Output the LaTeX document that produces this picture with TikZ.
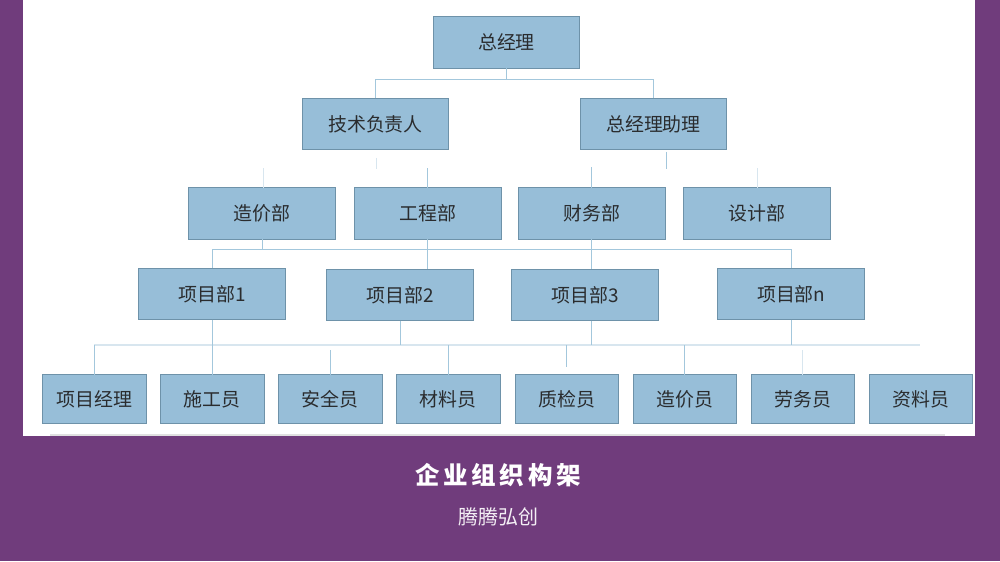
\documentclass[tikz,border=0pt]{standalone}
\usepackage{fontspec}
\setmainfont{Noto Sans CJK SC}
\usetikzlibrary{positioning}

\definecolor{boxfill}{HTML}{97BED8}
\definecolor{boxline}{HTML}{6E92A9}
\definecolor{linkline}{HTML}{A3C7DC}
\definecolor{paleline}{HTML}{D8E6EF}
\definecolor{bandcolor}{HTML}{703C7C}
\definecolor{inkcolor}{HTML}{2A2C2E}

\begin{document}
\begin{tikzpicture}[
    x = 0.75pt, % one unit is one pixel of the reference
    y = 0.75pt,
    line width = 0.75pt, % line style
    node distance = 22.5pt % distance between rows
    ]

    \tikzset{
    bigbox/.style = {
    draw = boxline,
    fill = boxfill,
    text = inkcolor,
    inner sep = 0pt,
    outer sep = 0pt,
    font = \fontsize{14.2}{16}\selectfont,
    minimum width = 110pt,
    minimum height = 38.6pt
    },
    smallbox/.style = {
    bigbox,
    minimum width = 77.6pt,
    minimum height = 37pt
    },
    link/.style = {draw = linkline},
    palelink/.style = {draw = paleline},
    busthree/.style = {draw = paleline, line width = 1.2pt}
    }

    \useasboundingbox (0,0) rectangle (1000,561);
    \fill[bandcolor] (0,0) rectangle (1000,561);
    \fill[white] (23,125) rectangle (975,561);
    \fill[black!12] (50,125) rectangle (945,127);

    \node[bigbox] (gm) at (506.5,518.5) {总经理};
    \node[bigbox] (tech) [below=of gm, xshift=-98.25pt] {技术负责人};
    \node[bigbox] (asst) [right=98.5pt of tech] {总经理助理};

    \node[bigbox] (cost) [below=28.5pt of tech, xshift=-84.9pt] {造价部};
    \node[bigbox] (eng) [right=14.5pt of cost] {工程部};
    \node[bigbox] (fin) [right=13pt of eng] {财务部};
    \node[bigbox] (dsgn) [right=13.75pt of fin] {设计部};

    \node[bigbox] (pm1) [below=21.75pt of cost, xshift=-37.5pt] {项目部1};
    \node[bigbox] (pm2) [right=31pt of pm1, yshift=-0.75pt] {项目部2};
    \node[bigbox] (pm3) [right=28.75pt of pm2] {项目部3};
    \node[bigbox] (pmn) [right=44.5pt of pm3, yshift=0.75pt] {项目部n};

    \node[smallbox] (s1) [below=41.25pt of pm1, xshift=-88.5pt] {项目经理};
    \node[smallbox] (s2) [right=10.9pt of s1] {施工员};
    \node[smallbox] (s3) [right=10.9pt of s2] {安全员};
    \node[smallbox] (s4) [right=10.9pt of s3] {材料员};
    \node[smallbox] (s5) [right=11.3pt of s4] {质检员};
    \node[smallbox] (s6) [right=10.9pt of s5] {造价员};
    \node[smallbox] (s7) [right=10.9pt of s6] {劳务员};
    \node[smallbox] (s8) [right=10.9pt of s7] {资料员};

    \node[text=white, font=\fontsize{18.4}{20}\selectfont\bfseries\addfontfeature{LetterSpace=15}] (title) at (498,86) {企业组织构架};
    \node[text=white!92!bandcolor, font=\fontsize{15}{16}\selectfont] (sub) [below=8.25pt of title] {腾腾弘创};

    % free ends
    \coordinate[below=8.25pt of gm.south] (bus1);
    \coordinate[below=7.5pt of cost.south] (bus2);
    \coordinate[below=18pt of pm2.south] (bus3);
    \coordinate (tip3) at (920,216);
    \coordinate (a1) at (376,403);
    \coordinate (a2) at (376,392);
    \coordinate (b1) at (666,409);
    \coordinate (b2) at (666,392);
    \coordinate (c1) at (263,393);
    \coordinate (d1) at (427,393);
    \coordinate (e1) at (591.5,394);
    \coordinate (f1) at (757,393);
    \coordinate (g3) at (330,211);
    \coordinate (g5a) at (566,216);
    \coordinate (g5b) at (566,194);
    \coordinate (g7) at (803,211);

    \path[link] (gm.south) edge (bus1);
    \draw[link] (tech.north) |- (bus1) -| (asst.north);

    \path[palelink] (a1) edge (a2);
    \path[link] (b1) edge (b2);
    \path[palelink] (cost.north -| c1) edge (c1);
    \path[link] (eng.north -| d1) edge (d1);
    \path[link] (fin.north -| e1) edge (e1);
    \path[palelink] (dsgn.north -| f1) edge (f1);

    \path[link] (cost.south) edge (bus2);
    \draw[link] (pm1.north) |- (bus2) -| (pmn.north);
    \path[link] (eng.south -| d1) edge (pm2.north -| d1);
    \path[link] (fin.south -| e1) edge (pm3.north -| e1);

    \draw[busthree] (s1.north) |- (tip3);
    \path[link] (s1.north) edge (s1.north |- tip3);
    \path[link] (pm1.south) edge (s2.north);
    \path[link] (pm2.south) edge (bus3);
    \path[link] (pm3.south -| e1) edge (tip3 -| e1);
    \path[link] (pmn.south) edge (tip3 -| pmn.south);
    \path[link] (s3.north) edge (s3.north |- g3);
    \path[link] (s4.north) edge (s4.north |- tip3);
    \path[link] (g5a) edge (g5b);
    \path[link] (s6.north) edge (s6.north |- tip3);
    \path[palelink] (s7.north) edge (s7.north |- g7);
\end{tikzpicture}
\end{document}
